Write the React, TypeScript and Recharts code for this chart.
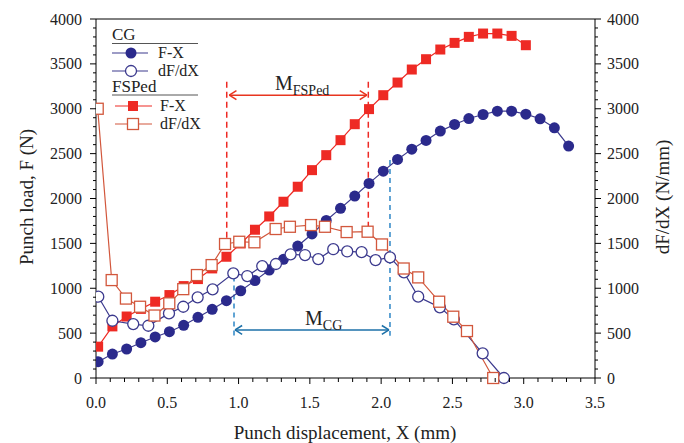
import { LineChart, Line, XAxis, YAxis, ReferenceLine } from 'recharts'

// punch displacement (mm) for the F-X curves (one reading every 0.1 mm)
const fxX = [
  0.015, 0.115, 0.215, 0.315, 0.415, 0.515, 0.615, 0.715, 0.815, 0.915,
  1.015, 1.115, 1.215, 1.315, 1.415, 1.515, 1.615, 1.715, 1.815, 1.915,
  2.015, 2.115, 2.215, 2.315, 2.415, 2.515, 2.615, 2.715, 2.815, 2.915,
  3.015, 3.115, 3.215, 3.315,
]
const cgLoad = [
  182, 267, 323, 393, 457, 516, 587, 676, 765, 861,
  972, 1085, 1203, 1322, 1470, 1605, 1755, 1890, 2027, 2168,
  2305, 2435, 2550, 2647, 2751, 2825, 2891, 2936, 2973, 2973,
  2940, 2888, 2788, 2584,
]
const fsLoad = [
  349, 575, 685, 770, 850, 924, 1024, 1102, 1221, 1351,
  1499, 1652, 1800, 1964, 2131, 2316, 2483, 2650, 2828, 2996,
  3151, 3292, 3437, 3552, 3660, 3734, 3801, 3838, 3838, 3812,
  3708,
]

// dF/dX curves
const cgSlopeX = [
  0.016, 0.115, 0.261, 0.367, 0.512, 0.612, 0.713, 0.818, 0.963, 1.061,
  1.166, 1.262, 1.365, 1.466, 1.559, 1.664, 1.762, 1.863, 1.961, 2.062,
  2.16, 2.26, 2.412, 2.51, 2.712, 2.861,
]
const cgSlope = [
  906, 638, 601, 582, 720, 794, 899, 988, 1166, 1136,
  1247, 1270, 1378, 1370, 1325, 1435, 1410, 1403, 1314, 1344,
  1177, 906, 787, 654, 275, 0,
]
const fsSlopeX = [
  0.012, 0.11, 0.21, 0.309, 0.41, 0.514, 0.612, 0.708, 0.811, 0.905,
  1.005, 1.111, 1.26, 1.36, 1.508, 1.606, 1.758, 1.905, 2.006, 2.158,
  2.26, 2.407, 2.506, 2.602, 2.786,
]
const fsSlope = [
  3000, 1091, 885, 794, 696, 832, 990, 1147, 1258, 1493,
  1518, 1512, 1660, 1685, 1704, 1685, 1626, 1630, 1488, 1220,
  1121, 850, 683, 523, 0,
]

const xTicks = Array.from({ length: 36 }, (_, i) => i / 10)
const yTicks = Array.from({ length: 41 }, (_, i) => i * 100)

const zip = (xs: number[], ys: number[]) => ys.map((y, i) => ({ x: xs[i], y }))

const NAVY = '#2b2a8c'
const NAVY_LINE = '#3c3a8e'
const RED = '#ee2a24'
const RED_OPEN = '#d2573c'
const BLUE_DASH = '#2d86c6'
const BLUE_ARROW = '#1c70a8'
const FONT = '"Liberation Serif", "Times New Roman", serif'

const isMajorX = (v: number) => Math.round(v * 10) % 5 === 0
const isMajorY = (v: number) => v % 500 === 0

function XTick({ x, y, payload }: any) {
  const major = isMajorX(payload.value)
  return (
    <g>
      <line x1={x} x2={x} y1={y} y2={y + (major ? 6 : 4)} stroke="#000" />
      {major && (
        <text x={x} y={y + 24} textAnchor="middle" dominantBaseline="central" fontSize={16} fill="#222" fontFamily={FONT}>
          {payload.value.toFixed(1)}
        </text>
      )}
    </g>
  )
}

function LeftTick({ x, y, payload }: any) {
  const major = isMajorY(payload.value)
  return (
    <g>
      <line x1={x} x2={x - (major ? 6 : 3)} y1={y} y2={y} stroke="#000" />
      {major && (
        <text x={x - 14} y={y} textAnchor="end" dominantBaseline="central" fontSize={16} fill="#222" fontFamily={FONT}>
          {payload.value}
        </text>
      )}
    </g>
  )
}

function RightTick({ x, y, payload }: any) {
  const major = isMajorY(payload.value)
  return (
    <g>
      <line x1={x} x2={x + (major ? 6 : 3)} y1={y} y2={y} stroke="#000" />
      {major && (
        <text x={x + 12} y={y} textAnchor="start" dominantBaseline="central" fontSize={16} fill="#222" fontFamily={FONT}>
          {payload.value}
        </text>
      )}
    </g>
  )
}

const filledCircle = (p: any) =>
  p.cx == null ? <g key={p.index} /> : <circle key={p.index} cx={p.cx} cy={p.cy} r={5.5} fill={NAVY} />
const openCircle = (p: any) =>
  p.cx == null ? <g key={p.index} /> : <circle key={p.index} cx={p.cx} cy={p.cy} r={5.5} fill="#fff" stroke={NAVY_LINE} strokeWidth={1.3} />
const filledSquare = (p: any) =>
  p.cx == null ? <g key={p.index} /> : <rect key={p.index} x={p.cx - 5} y={p.cy - 5} width={10} height={10} fill={RED} />
const openSquare = (p: any) =>
  p.cx == null ? <g key={p.index} /> : <rect key={p.index} x={p.cx - 5.5} y={p.cy - 5.5} width={11} height={11} fill="#fff" stroke={RED_OPEN} strokeWidth={1.3} />

// arrow helper: shaft plus two short barbs at each end
function arrow(x1: number, x2: number, y: number, color: string, key: string) {
  const dx = 0.05
  const dy = 50
  const seg = (a: any, b: any, k: string) => (
    <ReferenceLine key={key + k} yAxisId="left" segment={[a, b]} stroke={color} strokeWidth={1.5} ifOverflow="visible" />
  )
  return [
    seg({ x: x1, y }, { x: x2, y }, 's'),
    seg({ x: x1, y }, { x: x1 + dx, y: y + dy }, 'a'),
    seg({ x: x1, y }, { x: x1 + dx, y: y - dy }, 'b'),
    seg({ x: x2, y }, { x: x2 - dx, y: y + dy }, 'c'),
    seg({ x: x2, y }, { x: x2 - dx, y: y - dy }, 'd'),
  ]
}

export default function App() {
  return (
    <div style={{ position: 'relative', width: 684, height: 443, background: '#fff', fontFamily: FONT }}>
      <style>{'body{margin:0}'}</style>
      <LineChart width={684} height={443} margin={{ top: 19, right: 29, bottom: 35, left: 36 }}>
        <XAxis
          type="number" dataKey="x" domain={[0, 3.5]} ticks={xTicks} interval={0}
          tickSize={0} tickMargin={0} tickLine={false} tick={(p: any) => <XTick {...p} />}
          axisLine={{ stroke: '#000' }} height={30} allowDataOverflow
        />
        <YAxis
          yAxisId="left" type="number" domain={[0, 4000]} ticks={yTicks} interval={0} width={60}
          tickSize={0} tickMargin={0} tickLine={false} tick={(p: any) => <LeftTick {...p} />}
          axisLine={{ stroke: '#000' }}
        />
        <YAxis
          yAxisId="right" orientation="right" type="number" domain={[0, 4000]} ticks={yTicks} interval={0} width={60}
          tickSize={0} tickMargin={0} tickLine={false} tick={(p: any) => <RightTick {...p} />}
          axisLine={{ stroke: '#000' }}
        />
        <ReferenceLine yAxisId="left" y={4000} stroke="#000" />

        {/* M_FSPed region */}
        <ReferenceLine yAxisId="left" segment={[{ x: 0.917, y: 3300 }, { x: 0.917, y: 1495 }]} stroke={RED} strokeWidth={1.5} strokeDasharray="6 4" />
        <ReferenceLine yAxisId="left" segment={[{ x: 1.91, y: 3300 }, { x: 1.91, y: 1630 }]} stroke={RED} strokeWidth={1.5} strokeDasharray="6 4" />
        {arrow(0.935, 1.9, 3151, '#e8351f', 'fs')}

        {/* M_CG region */}
        <ReferenceLine yAxisId="left" segment={[{ x: 0.968, y: 1130 }, { x: 0.968, y: 470 }]} stroke={BLUE_DASH} strokeWidth={1.5} strokeDasharray="5 4" />
        <ReferenceLine yAxisId="left" segment={[{ x: 2.062, y: 2430 }, { x: 2.062, y: 470 }]} stroke={BLUE_DASH} strokeWidth={1.5} strokeDasharray="5 4" />
        {arrow(0.975, 2.055, 535, BLUE_ARROW, 'cg')}

        <Line yAxisId="left" data={zip(fxX, cgLoad)} dataKey="y" type="linear" stroke={NAVY_LINE} strokeWidth={1.2} dot={filledCircle} isAnimationActive={false} />
        <Line yAxisId="left" data={zip(fxX, fsLoad)} dataKey="y" type="linear" stroke={RED} strokeWidth={1.2} dot={filledSquare} isAnimationActive={false} />
        <Line yAxisId="right" data={zip(cgSlopeX, cgSlope)} dataKey="y" type="linear" stroke={NAVY_LINE} strokeWidth={1.2} dot={openCircle} isAnimationActive={false} />
        <Line yAxisId="right" data={zip(fsSlopeX, fsSlope)} dataKey="y" type="linear" stroke={RED_OPEN} strokeWidth={1.2} dot={openSquare} isAnimationActive={false} />
      </LineChart>

      {/* legend, annotations and axis titles */}
      <svg width={684} height={443} style={{ position: 'absolute', left: 0, top: 0, pointerEvents: 'none' }} fontFamily={FONT} fill="#222">
        <text x={112} y={40} fontSize={17}>CG</text>
        <line x1={112} x2={198} y1={43.5} y2={43.5} stroke="#555" />
        <line x1={112} x2={148} y1={53} y2={53} stroke={NAVY_LINE} strokeWidth={1.2} />
        <circle cx={131} cy={53} r={5.5} fill={NAVY} />
        <text x={158} y={58} fontSize={16}>F-X</text>
        <line x1={112} x2={148} y1={71} y2={71} stroke={NAVY_LINE} strokeWidth={1.2} />
        <circle cx={131} cy={71} r={5.5} fill="#fff" stroke={NAVY_LINE} strokeWidth={1.3} />
        <text x={158} y={76} fontSize={16}>dF/dX</text>

        <text x={112} y={92} fontSize={17}>FSPed</text>
        <line x1={112} x2={198} y1={95} y2={95} stroke="#555" />
        <line x1={115} x2={152} y1={106} y2={106} stroke={RED} strokeWidth={1.2} />
        <rect x={128} y={101} width={10} height={10} fill={RED} />
        <text x={160} y={111} fontSize={16}>F-X</text>
        <line x1={115} x2={152} y1={124} y2={124} stroke={RED_OPEN} strokeWidth={1.2} />
        <rect x={127.5} y={118.5} width={11} height={11} fill="#fff" stroke={RED_OPEN} strokeWidth={1.3} />
        <text x={160} y={129} fontSize={16}>dF/dX</text>

        <text x={275} y={90} fontSize={20}>M<tspan fontSize={14} dy={5}>FSPed</tspan></text>
        <text x={305} y={325} fontSize={20}>M<tspan fontSize={14} dy={5}>CG</tspan></text>

        <text x={345} y={439} textAnchor="middle" fontSize={19}>Punch displacement, X (mm)</text>
        <text transform="translate(33,197) rotate(-90)" textAnchor="middle" fontSize={19}>Punch load, F (N)</text>
        <text transform="translate(669,197) rotate(-90)" textAnchor="middle" fontSize={19}>dF/dX (N/mm)</text>
      </svg>
    </div>
  )
}
